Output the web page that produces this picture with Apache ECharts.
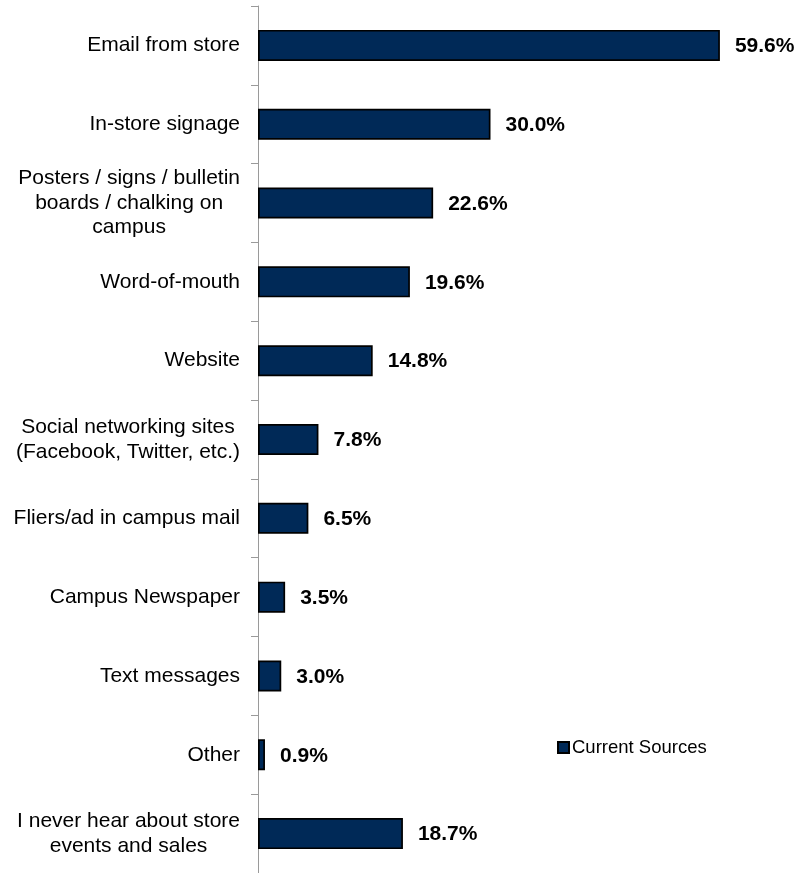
<!DOCTYPE html>
<html>
<head>
<meta charset="utf-8">
<script src="https://cdn.jsdelivr.net/npm/echarts@6/dist/echarts.min.js"></script>
<style>
  html, body { margin: 0; padding: 0; background: #fff; }
  #chart { width: 798px; height: 873px; }
</style>
</head>
<body>
<div id="chart"></div>
<script>
// Where students hear about store events and sales
const categories = [
  'Email from store',
  'In-store signage',
  'Posters / signs / bulletin\nboards / chalking on\ncampus',
  'Word-of-mouth',
  'Website',
  'Social networking sites\n(Facebook, Twitter, etc.)',
  'Fliers/ad in campus mail',
  'Campus Newspaper',
  'Text messages',
  'Other',
  'I never hear about store\nevents and sales'
];
const currentSources = [59.6, 30.0, 22.6, 19.6, 14.8, 7.8, 6.5, 3.5, 3.0, 0.9, 18.7];
const seriesName = 'Current Sources';

const FONT = '"Liberation Sans", Arial, sans-serif';

const chart = echarts.init(document.getElementById('chart'), null, { renderer: 'canvas' });

chart.setOption({
  animation: false,
  backgroundColor: '#ffffff',
  textStyle: { fontFamily: FONT, color: '#000' },
  grid: { left: 258, right: 75, top: 6, bottom: -4.5, containLabel: false },
  xAxis: {
    type: 'value',
    min: 0,
    max: 60,
    show: false
  },
  yAxis: {
    type: 'category',
    inverse: true,
    data: categories,
    axisLine: { show: true, lineStyle: { color: '#9a9a9a', width: 1 } },
    axisTick: { show: true, inside: false, length: 7, lineStyle: { color: '#9a9a9a', width: 1 } },
    splitLine: { show: false },
    axisLabel: {
      margin: 18,
      color: '#000',
      fontFamily: FONT,
      fontSize: 21,
      lineHeight: 24.5,
      // each line of a wrapped label is centred within its block
      formatter: function (v) {
        return v.split('\n').map(function (l) { return '{c|' + l + '}'; }).join('\n');
      },
      rich: {
        c: { align: 'center', fontFamily: FONT, fontSize: 21, lineHeight: 24.5, color: '#000' }
      }
    }
  },
  legend: {
    data: [seriesName],
    left: 557,
    top: 738,
    padding: 0,
    icon: 'rect',
    itemWidth: 11,
    itemHeight: 11,
    textStyle: { fontFamily: FONT, fontSize: 18.5, color: '#000', padding: [0, 0, 0, -2] }
  },
  series: [{
    name: seriesName,
    type: 'bar',
    data: currentSources,
    barWidth: 31,
    itemStyle: { color: '#002957', borderColor: '#000', borderWidth: 1.7 },
    label: {
      show: true,
      position: 'right',
      distance: 15,
      offset: [0, 1],
      fontFamily: FONT,
      fontSize: 21,
      fontWeight: 'bold',
      color: '#000',
      formatter: function (p) { return p.value.toFixed(1) + '%'; }
    }
  }]
});
</script>
</body>
</html>
